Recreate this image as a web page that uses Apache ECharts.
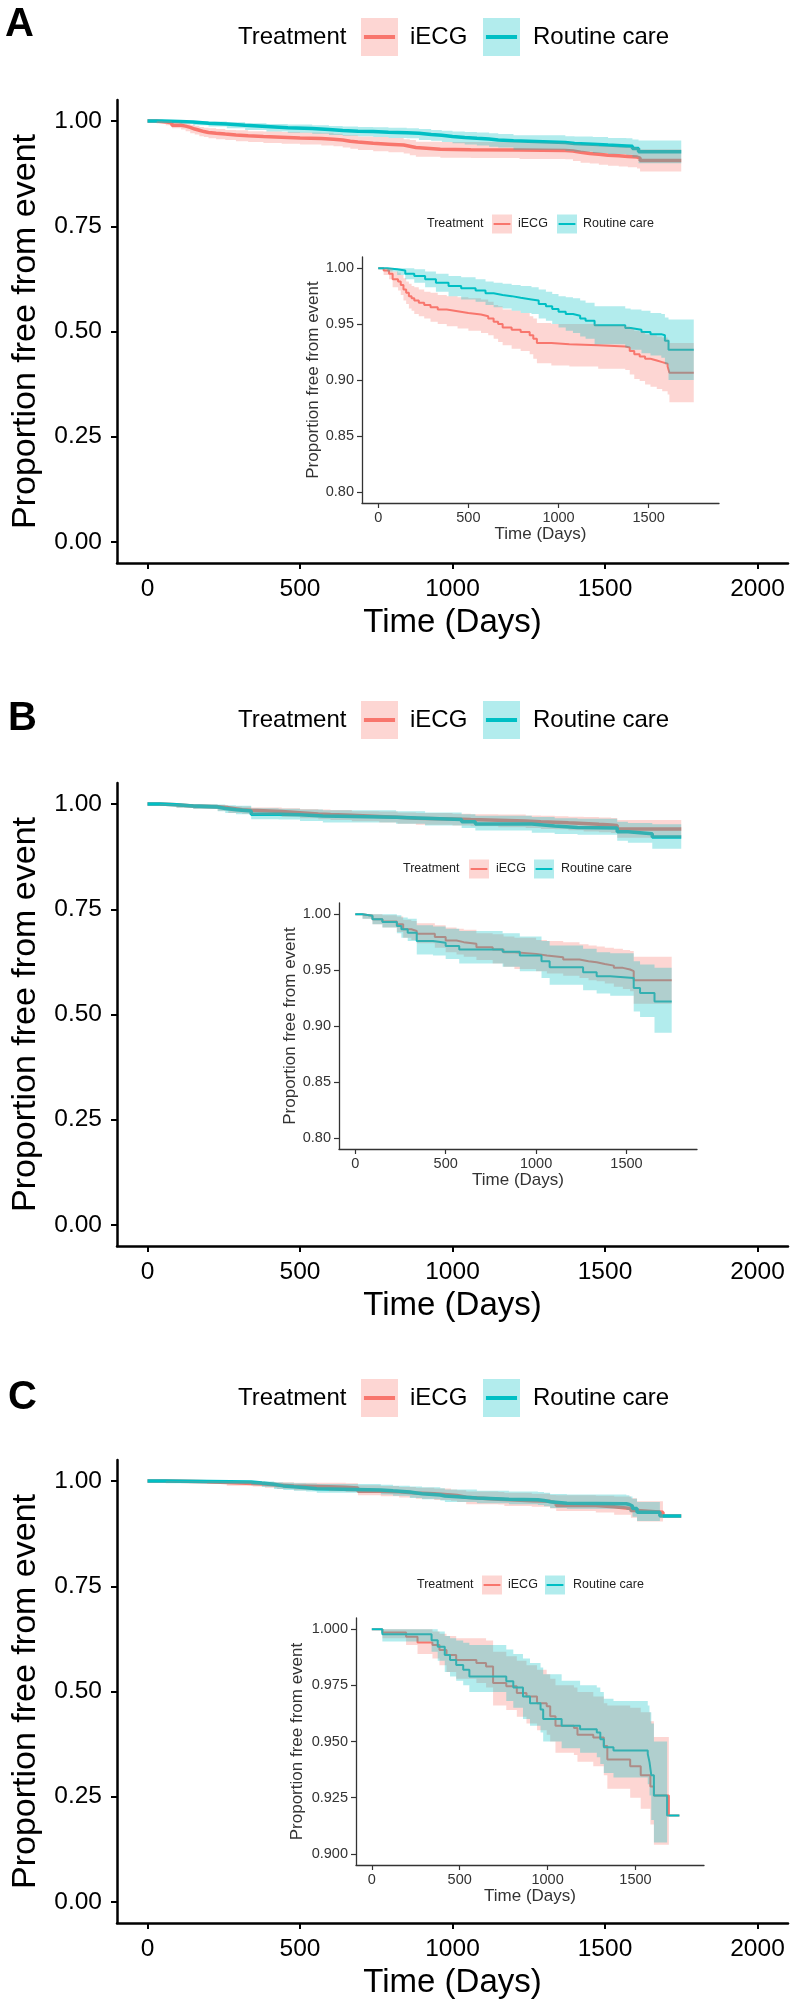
<!DOCTYPE html>
<html><head><meta charset="utf-8">
<script src="https://cdn.jsdelivr.net/npm/echarts@6/dist/echarts.min.js"></script>
<style>html,body{margin:0;padding:0;background:#fff}#c{width:800px;height:2014px}</style>
</head><body><div id="c"></div>
<script>
// ---------- labels ----------
const panelLetters = ['A', 'B', 'C'];
const groups = ['iECG', 'Routine care'];
const legendTitle = 'Treatment';
const xTitle = 'Time (Days)';
const yTitle = 'Proportion free from event';

// ---------- tick values ----------
const mainXTicks = [0, 500, 1000, 1500, 2000];
const mainYTicks = [0, 0.25, 0.5, 0.75, 1.0];
const insetXTicks = [0, 500, 1000, 1500];
const insetYTicksAB = [0.80, 0.85, 0.90, 0.95, 1.00];
const insetYTicksC = [0.900, 0.925, 0.950, 0.975, 1.000];

// ---------- Panel A ----------
const A_iecg_t  = [0, 30, 60, 80, 110, 125, 140, 155, 170, 185, 200, 225, 255, 290, 330, 380, 440, 500, 570, 610, 640, 665, 690, 740, 790, 840, 860, 880, 960, 1060, 1220, 1370, 1395, 1420, 1450, 1480, 1510, 1545, 1575, 1605, 1615, 1750];
const A_iecg_s  = [1.000, .998, .995, .990, .988, .985, .981, .978, .975, .973, .971, .969, .967, .965, .963, .9615, .960, .9585, .957, .955, .952, .950, .947, .945, .943, .940, .937, .933, .932, .931, .930, .929, .926, .923, .921, .919, .9175, .916, .9145, .912, .9065, .9065];
const A_iecg_lo = [1.000, .994, .990, .983, .980, .976, .971, .968, .964, .962, .959, .957, .955, .952, .950, .948, .946, .944, .942, .940, .937, .934, .931, .928, .926, .923, .919, .915, .913, .912, .910, .909, .905, .901, .899, .896, .894, .892, .890, .887, .880, .880];
const A_iecg_hi = [1.000, 1.000, 1.000, .997, .996, .994, .991, .988, .986, .984, .983, .981, .979, .978, .976, .975, .974, .973, .972, .970, .967, .966, .963, .962, .960, .957, .955, .951, .950, .950, .949, .948, .946, .944, .943, .941, .940, .939, .938, .936, .933, .933];

const A_rc_t  = [0, 50, 105, 150, 200, 260, 320, 390, 460, 540, 595, 640, 690, 740, 790, 850, 890, 930, 965, 1000, 1040, 1080, 1120, 1150, 1200, 1370, 1400, 1460, 1510, 1570, 1590, 1610, 1750];
const A_rc_s  = [1.000, .999, .998, .995, .993, .990, .987, .984, .982, .980, .9775, .976, .975, .9735, .972, .971, .968, .966, .9635, .961, .959, .9575, .955, .953, .949, .9465, .945, .943, .941, .940, .935, .927, .927];
const A_rc_lo = [1.000, .997, .994, .990, .987, .983, .979, .975, .972, .970, .967, .965, .964, .962, .960, .959, .955, .953, .950, .947, .944, .942, .939, .937, .932, .929, .927, .924, .922, .920, .914, .900, .900];
const A_rc_hi = [1.000, 1.000, 1.000, 1.000, .999, .997, .995, .993, .992, .990, .988, .987, .986, .985, .984, .983, .981, .979, .977, .975, .974, .973, .971, .969, .966, .964, .963, .962, .960, .959, .956, .954, .954];

// ---------- Panel B ----------
const B_iecg_t  = [0, 40, 95, 150, 230, 265, 310, 340, 440, 500, 560, 600, 670, 760, 820, 880, 1000, 1060, 1150, 1240, 1290, 1335, 1380, 1430, 1480, 1520, 1540, 1750];
const B_iecg_s  = [1.000, .9985, .9955, .9935, .991, .9865, .985, .9825, .9795, .9765, .975, .9735, .9705, .9685, .966, .9645, .963, .9615, .9595, .958, .957, .9555, .954, .952, .9505, .949, .941, .941];
const B_iecg_lo = [1.000, .996, .991, .988, .984, .979, .977, .974, .970, .966, .964, .962, .959, .956, .953, .951, .949, .947, .945, .943, .941, .940, .938, .935, .933, .931, .920, .920];
const B_iecg_hi = [1.000, 1.000, 1.000, .999, .998, .995, .994, .992, .990, .988, .987, .986, .983, .982, .980, .979, .977, .976, .975, .973, .972, .971, .970, .969, .968, .967, .962, .962];

const B_rc_t  = [0, 40, 95, 150, 230, 255, 290, 340, 430, 500, 575, 815, 910, 1030, 1075, 1260, 1335, 1410, 1540, 1575, 1655, 1750];
const B_rc_s  = [1.000, .9985, .9955, .993, .9895, .9865, .9835, .976, .9745, .9715, .9685, .9665, .963, .958, .9525, .948, .9445, .943, .934, .9295, .922, .922];
const B_rc_lo = [1.000, .996, .991, .988, .983, .979, .976, .964, .963, .960, .956, .953, .949, .943, .937, .932, .929, .927, .913, .908, .894, .894];
const B_rc_hi = [1.000, 1.000, 1.000, 1.000, .999, .997, .996, .990, .989, .987, .985, .983, .980, .976, .972, .969, .966, .965, .958, .955, .952, .952];

// ---------- Panel C ----------
const C_iecg_t  = [0, 60, 195, 260, 345, 385, 425, 480, 595, 650, 690, 765, 825, 880, 940, 995, 1015, 1045, 1150, 1170, 1260, 1320, 1340, 1470, 1530, 1585, 1605, 1690, 1750];
const C_iecg_s  = [1.000, .9985, .9966, .9941, .993, .9907, .9885, .9863, .985, .9834, .976, .9746, .9716, .970, .967, .9657, .9613, .957, .956, .953, .9518, .948, .942, .939, .935, .930, .926, .917, .917];
const C_iecg_lo = [1.000, .996, .993, .989, .987, .984, .981, .978, .976, .974, .966, .964, .961, .958, .955, .953, .950, .945, .944, .941, .939, .935, .929, .925, .920, .913, .904, .917, .917];
const C_iecg_hi = [1.000, 1.000, 1.000, 1.000, .999, .998, .997, .996, .996, .995, .990, .988, .986, .984, .982, .980, .978, .975, .974, .972, .970, .967, .966, .965, .963, .959, .952, .917, .917];

const C_rc_t  = [0, 60, 340, 375, 415, 445, 480, 520, 555, 765, 805, 860, 900, 960, 975, 1080, 1185, 1280, 1300, 1320, 1375, 1570, 1580, 1590, 1605, 1680, 1750];
const C_rc_s  = [1.000, .9978, .9951, .9922, .9885, .9863, .9841, .9819, .979, .9768, .974, .970, .967, .9643, .960, .957, .9555, .954, .951, .9474, .946, .9444, .9408, .935, .926, .917, .917];
const C_rc_lo = [1.000, .9945, .990, .986, .981, .979, .977, .975, .972, .968, .965, .960, .957, .954, .950, .947, .945, .943, .940, .936, .934, .931, .926, .915, .905, .917, .917];
const C_rc_hi = [1.000, 1.000, 1.000, .999, .997, .996, .995, .994, .993, .991, .989, .987, .985, .983, .980, .977, .975, .974, .972, .969, .968, .966, .963, .958, .950, .917, .917];

// ---------- styling / layout ----------
const FONT = '"Liberation Sans", Arial, Helvetica, sans-serif';
const COL = ['#F8766D', '#00BFC4'];
const FILL = ['rgba(248,118,109,0.3)', 'rgba(0,191,196,0.3)'];

const panelData = [
  [[A_iecg_t, A_iecg_s, A_iecg_lo, A_iecg_hi], [A_rc_t, A_rc_s, A_rc_lo, A_rc_hi]],
  [[B_iecg_t, B_iecg_s, B_iecg_lo, B_iecg_hi], [B_rc_t, B_rc_s, B_rc_lo, B_rc_hi]],
  [[C_iecg_t, C_iecg_s, C_iecg_lo, C_iecg_hi], [C_rc_t, C_rc_s, C_rc_lo, C_rc_hi]]
];

const layout = [
  { dy: 0,    letterX: 5, letterY: 25,   legendY: 37,
    inset: { left: 362, top: 257, width: 357, height: 246, yMin: 0.79, yMax: 1.01, ticks: insetYTicksAB, dec: 2,
             yNameGap: 40, legY: 224, legX: [427, 492, 518, 557, 583] } },
  { dy: 683,  letterX: 8, letterY: 719,  legendY: 720,
    inset: { left: 339, top: 903, width: 358, height: 246, yMin: 0.79, yMax: 1.01, ticks: insetYTicksAB, dec: 2,
             yNameGap: 40, legY: 869, legX: [403, 469, 496, 534, 561] } },
  { dy: 1360, letterX: 8, letterY: 1398, legendY: 1398,
    inset: { left: 356, top: 1618, width: 348, height: 247, yMin: 0.895, yMax: 1.005, ticks: insetYTicksC, dec: 3,
             yNameGap: 50, legY: 1585, legX: [417, 482, 508, 545, 573] } }
];

const grids = [], xAxes = [], yAxes = [], series = [], graphics = [];

function axisCfg(gi, o) {
  return {
    gridIndex: gi, type: 'value', min: o.min, max: o.max,
    splitLine: { show: false },
    axisLine: { show: true, onZero: false, lineStyle: { color: o.col, width: o.lw } },
    axisTick: { show: true, length: o.tl, lineStyle: { color: o.col, width: o.tw }, customValues: o.ticks },
    axisLabel: { show: true, customValues: o.ticks, fontSize: o.fs, color: o.lc, margin: o.lm, fontFamily: FONT, formatter: o.fmt },
    name: o.name, nameLocation: 'middle', nameGap: o.ng,
    nameTextStyle: { fontSize: o.nfs, color: o.lc, fontFamily: FONT }
  };
}

function ribbon(xi, yi, t, lo, hi, fill) {
  return {
    type: 'custom', xAxisIndex: xi, yAxisIndex: yi, z: 3, silent: true,
    data: [[t[0], hi[0]]],
    renderItem: function (params, api) {
      const up = [], dn = [];
      for (let i = 0; i < t.length - 1; i++) {
        up.push(api.coord([t[i], hi[i]]), api.coord([t[i + 1], hi[i]]));
        dn.push(api.coord([t[i], lo[i]]), api.coord([t[i + 1], lo[i]]));
      }
      return { type: 'polygon', shape: { points: up.concat(dn.reverse()) }, style: { fill: fill } };
    }
  };
}

function curve(xi, yi, t, s, color, w) {
  return {
    type: 'line', xAxisIndex: xi, yAxisIndex: yi, z: 2, step: 'end', showSymbol: false, symbol: 'none',
    silent: true, lineStyle: { color: color, width: w },
    data: t.map((x, i) => [x, s[i]])
  };
}

function legend(x, y, fs, kw, kh, lw, col) {
  const [xt, xk1, xl1, xk2, xl2] = x;
  const out = [];
  out.push({ type: 'text', x: xt, y: y, style: { text: legendTitle, fontSize: fs, fontFamily: FONT, fill: col, align: 'left', verticalAlign: 'middle' } });
  [[xk1, xl1], [xk2, xl2]].forEach((p, g) => {
    out.push({ type: 'rect', shape: { x: p[0], y: y - kh / 2, width: kw, height: kh }, style: { fill: FILL[g] } });
    out.push({ type: 'line', shape: { x1: p[0] + kw * 0.08, y1: y, x2: p[0] + kw * 0.92, y2: y }, style: { stroke: COL[g], lineWidth: lw } });
    out.push({ type: 'text', x: p[1], y: y, style: { text: groups[g], fontSize: fs, fontFamily: FONT, fill: col, align: 'left', verticalAlign: 'middle' } });
  });
  return out;
}

layout.forEach((L, p) => {
  const gMain = grids.length;
  grids.push({ left: 117, top: 100 + L.dy, width: 671, height: 463, containLabel: false });
  xAxes.push(axisCfg(gMain, { min: -100, max: 2100, col: '#000', lw: 2.5, tl: 6, tw: 2, ticks: mainXTicks,
    fs: 24.5, lc: '#000', lm: 14, fmt: v => String(v), name: xTitle, ng: 43, nfs: 33 }));
  yAxes.push(axisCfg(gMain, { min: -0.05, max: 1.05, col: '#000', lw: 2.5, tl: 6, tw: 2, ticks: mainYTicks,
    fs: 24.5, lc: '#000', lm: 15, fmt: v => v.toFixed(2), name: yTitle, ng: 74, nfs: 34 }));

  const I = L.inset;
  const gIn = grids.length;
  grids.push({ left: I.left, top: I.top, width: I.width, height: I.height, containLabel: false });
  xAxes.push(axisCfg(gIn, { min: -90, max: 1890, col: '#333', lw: 1.3, tl: 5, tw: 1.2, ticks: insetXTicks,
    fs: 14.5, lc: '#333', lm: 7, fmt: v => String(v), name: xTitle, ng: 23, nfs: 17 }));
  yAxes.push(axisCfg(gIn, { min: I.yMin, max: I.yMax, col: '#333', lw: 1.3, tl: 5, tw: 1.2, ticks: I.ticks,
    fs: 14.5, lc: '#333', lm: 8, fmt: v => v.toFixed(I.dec), name: yTitle, ng: I.yNameGap, nfs: 17 }));

  const D = panelData[p];
  [[gMain, 3.5], [gIn, 2]].forEach(([gi, w]) => {
    D.forEach((d, g) => series.push(curve(gi, gi, d[0], d[1], COL[g], w)));
    D.forEach((d, g) => series.push(ribbon(gi, gi, d[0], d[2], d[3], FILL[g])));
  });

  graphics.push({ type: 'text', x: L.letterX, y: L.letterY, style: { text: panelLetters[p], fontSize: 40, fontWeight: 'bold', fontFamily: FONT, fill: '#000', align: 'left', verticalAlign: 'middle' } });
  graphics.push(...legend([238, 361, 410, 483, 533], L.legendY, 24, 37, 38, 4, '#000'));
  graphics.push(...legend(I.legX, I.legY, 12.5, 20, 19, 2, '#222'));
});

const chart = echarts.init(document.getElementById('c'), null, { renderer: 'canvas' });
chart.setOption({
  animation: false,
  backgroundColor: '#fff',
  grid: grids, xAxis: xAxes, yAxis: yAxes, series: series,
  graphic: { elements: graphics }
});
</script></body></html>
